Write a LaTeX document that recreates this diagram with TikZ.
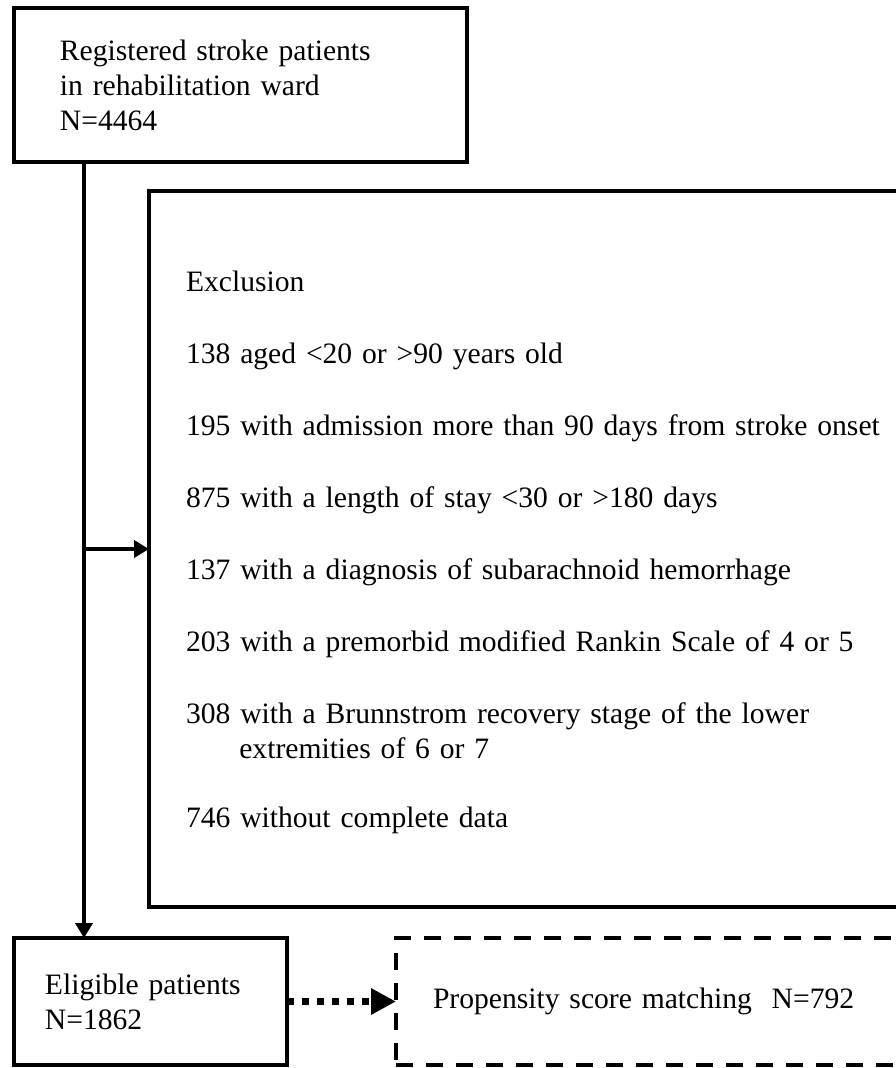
\documentclass[tikz,border=0pt]{standalone}
\usepackage{fontspec}
\setmainfont{Liberation Serif}
\usetikzlibrary{arrows.meta}

\begin{document}
\begin{tikzpicture}[x=0.75pt,y=-0.75pt,
  font=\fontsize{22.2pt}{26.25pt}\selectfont,
  box/.style={draw,line width=3pt,rectangle,anchor=north west,align=left,outer sep=0pt},
  dashbox/.style={box,line width=3.5pt,dash pattern=on 12.75pt off 9.75pt},
  flow/.style={line width=3pt,-{Triangle[length=11.25pt,width=12.75pt]}},
  dotflow/.style={line width=5.25pt,dash pattern=on 5.25pt off 6pt,-{Triangle[length=18.75pt,width=18.75pt]}}]
\clip (0,0) rectangle (896,1068);

\node[box,minimum width=339.75pt,minimum height=115.5pt,inner xsep=34.5pt,text width=270.75pt] (reg) at (14,8)
  {Registered stroke patients\\in rehabilitation ward\\N=4464};

\node[box,minimum width=638.25pt,minimum height=537pt,inner xsep=27.75pt,text width=582.75pt] (excl) at (149,191)
  {\rule{0pt}{21pt}Exclusion\\[27.75pt]
   138 aged <20 or >90 years old\\[27.75pt]
   195 with admission more than 90 days from stroke onset\\[27.75pt]
   875 with a length of stay <30 or >180 days\\[27.75pt]
   137 with a diagnosis of subarachnoid hemorrhage\\[27.75pt]
   203 with a premorbid modified Rankin Scale of 4 or 5\\[27.75pt]
   308 with a Brunnstrom recovery stage of the lower\\
   \hspace*{40pt}extremities of 6 or 7\\[25.5pt]
   746 without complete data};

\node[box,minimum width=204.75pt,minimum height=95.25pt,inner xsep=23.25pt,text width=158.25pt] (elig) at (14,938)
  {Eligible patients\\N=1862};

\node[dashbox,minimum width=453pt,minimum height=95.25pt,inner xsep=27.75pt,text width=397.5pt] (psm) at (396,938)
  {Propensity score matching\ \ N=792};

% Arrows showing patient flow
\coordinate (trunk) at ([xshift=52.5pt]reg.south west);
\draw[flow] (trunk) -- (trunk |- elig.north);
\draw[flow] (trunk |- excl.west) -- (excl.west);
\draw[dotflow] (elig.east) -- (psm.west);
\end{tikzpicture}
\end{document}
